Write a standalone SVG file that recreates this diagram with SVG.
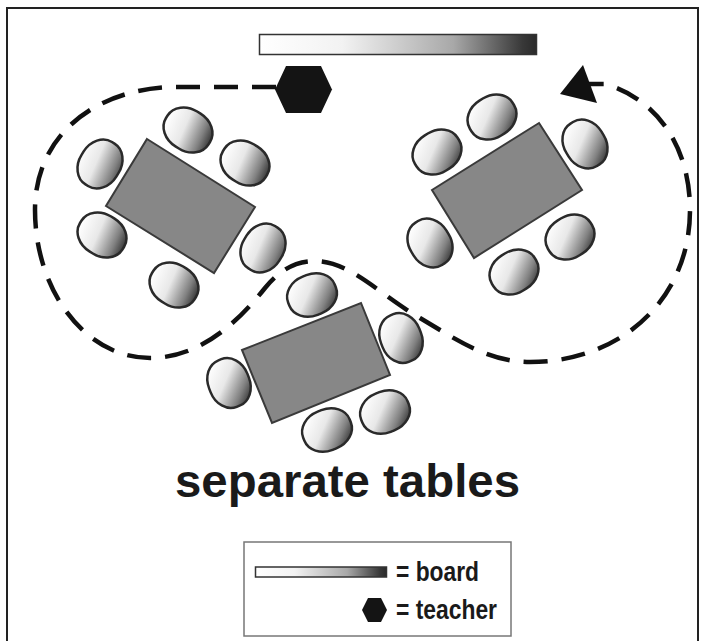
<svg xmlns="http://www.w3.org/2000/svg" xmlns:xlink="http://www.w3.org/1999/xlink" width="705" height="641" viewBox="0 0 705 641">
  <style>
    .frame { fill: none; stroke: #222; stroke-width: 2; }
    .table { fill: #878787; stroke: #3a3a3a; stroke-width: 2; stroke-linejoin: miter; }
    .chair { stroke: #2a2a2a; stroke-width: 2.5; }
    .board { fill: url(#boardFill); stroke: #333; stroke-width: 1.5; }
    .teacher { fill: #141414; }
    .path { fill: none; stroke: #111; stroke-width: 4.5; stroke-dasharray: 24 14; }
    .title { font-family: "Liberation Sans", Arial, Helvetica, sans-serif; font-weight: bold; font-size: 47px; fill: #1a1a1a; }
    .legend-text { font-family: "Liberation Sans", Arial, Helvetica, sans-serif; font-weight: bold; font-size: 28px; fill: #1a1a1a; }
    .legend-box { fill: #fff; stroke: #777; stroke-width: 1.5; }
  </style>
  <defs>
    <linearGradient id="boardFill" x1="0" y1="0" x2="1" y2="0">
      <stop offset="0" stop-color="#ffffff"/>
      <stop offset="0.3" stop-color="#f2f2f2"/>
      <stop offset="0.7" stop-color="#a8a8a8"/>
      <stop offset="0.95" stop-color="#383838"/>
      <stop offset="1" stop-color="#2a2a2a"/>
    </linearGradient>
    <!-- chair shading: light upper-left, dark lower-right in page orientation -->
    <linearGradient id="chairBase" gradientUnits="userSpaceOnUse" x1="-22" y1="-10" x2="24" y2="10">
      <stop offset="0" stop-color="#ffffff"/>
      <stop offset="0.4" stop-color="#e8e8e8"/>
      <stop offset="0.78" stop-color="#808080"/>
      <stop offset="1" stop-color="#333333"/>
    </linearGradient>
    <linearGradient id="chairL" href="#chairBase" gradientTransform="rotate(-32)"/>
    <linearGradient id="chairR" href="#chairBase" gradientTransform="rotate(32)"/>
    <linearGradient id="chairB" href="#chairBase" gradientTransform="rotate(21.5)"/>
    <!-- chair seat: soft oval, long side horizontal / vertical -->
    <rect id="seatW" x="-25" y="-20.5" width="50" height="41" rx="23" ry="19"/>
    <rect id="seatT" x="-20.5" y="-25" width="41" height="50" rx="19" ry="23"/>
  </defs>

  <rect width="705" height="641" fill="#fff"/>
  <path class="frame" d="M7,642 V8 H698 V642"/>

  <!-- board -->
  <g id="board">
    <rect class="board" x="259.5" y="34.5" width="277" height="20"/>
  </g>

  <!-- teacher -->
  <g id="teacher">
    <polygon class="teacher" points="275,89.5 286,66 321,66 332,89.5 321,113 286,113"/>
  </g>

  <!-- teacher's walking route -->
  <g id="connectors">
    <path class="path" d="M276,87 L170,87 C95,90 35,135 35,210 C35,290 85,358 150,358 C200,358 238,322 265,288 C280,270 295,261 315,261 C350,261 380,295 420,318 C460,342 490,362 530,362 C620,362 690,300 690,210 C690,150 660,100 605,84 L584,84"/>
    <polygon fill="#111" points="560,94 583,65 597,103"/>
  </g>

  <!-- left table group -->
  <g id="table-left">
    <polygon class="table" points="147,139 255,207 214,273 106,206"/>
    <use href="#seatW" class="chair" fill="url(#chairL)" transform="translate(188,130) rotate(32)"/>
    <use href="#seatW" class="chair" fill="url(#chairL)" transform="translate(245,163) rotate(32)"/>
    <use href="#seatT" class="chair" fill="url(#chairL)" transform="translate(100,164) rotate(32)"/>
    <use href="#seatW" class="chair" fill="url(#chairL)" transform="translate(102,235) rotate(32)"/>
    <use href="#seatW" class="chair" fill="url(#chairL)" transform="translate(174,285) rotate(32)"/>
    <use href="#seatT" class="chair" fill="url(#chairL)" transform="translate(263,248) rotate(32)"/>
  </g>

  <!-- right table group -->
  <g id="table-right">
    <polygon class="table" points="539,123 582,190 474,258 432,190"/>
    <use href="#seatW" class="chair" fill="url(#chairR)" transform="translate(492,117) rotate(-32)"/>
    <use href="#seatW" class="chair" fill="url(#chairR)" transform="translate(437,152) rotate(-32)"/>
    <use href="#seatT" class="chair" fill="url(#chairR)" transform="translate(585,144) rotate(-32)"/>
    <use href="#seatT" class="chair" fill="url(#chairR)" transform="translate(430,243) rotate(-32)"/>
    <use href="#seatW" class="chair" fill="url(#chairR)" transform="translate(570,237) rotate(-32)"/>
    <use href="#seatW" class="chair" fill="url(#chairR)" transform="translate(514,272) rotate(-32)"/>
  </g>

  <!-- bottom table group -->
  <g id="table-bottom">
    <polygon class="table" points="242,350 361,303 390,375 272,423"/>
    <use href="#seatW" class="chair" fill="url(#chairB)" transform="translate(312,295) rotate(-21.5)"/>
    <use href="#seatT" class="chair" fill="url(#chairB)" transform="translate(401,338) rotate(-21.5)"/>
    <use href="#seatT" class="chair" fill="url(#chairB)" transform="translate(229,383) rotate(-21.5)"/>
    <use href="#seatW" class="chair" fill="url(#chairB)" transform="translate(385,412) rotate(-21.5)"/>
    <use href="#seatW" class="chair" fill="url(#chairB)" transform="translate(327,430) rotate(-21.5)"/>
  </g>

  <g id="title">
    <text class="title" x="175" y="497" textLength="345" lengthAdjust="spacingAndGlyphs">separate tables</text>
  </g>

  <!-- key -->
  <g id="legend">
    <rect class="legend-box" x="244" y="542" width="267" height="94"/>
    <rect class="board" x="255.5" y="567" width="131" height="10"/>
    <text class="legend-text" x="396" y="581" textLength="83" lengthAdjust="spacingAndGlyphs">= board</text>
    <polygon class="teacher" points="362,610 368,598 381,598 387,610 381,622 368,622"/>
    <text class="legend-text" x="396" y="619" textLength="101" lengthAdjust="spacingAndGlyphs">= teacher</text>
  </g>
</svg>
